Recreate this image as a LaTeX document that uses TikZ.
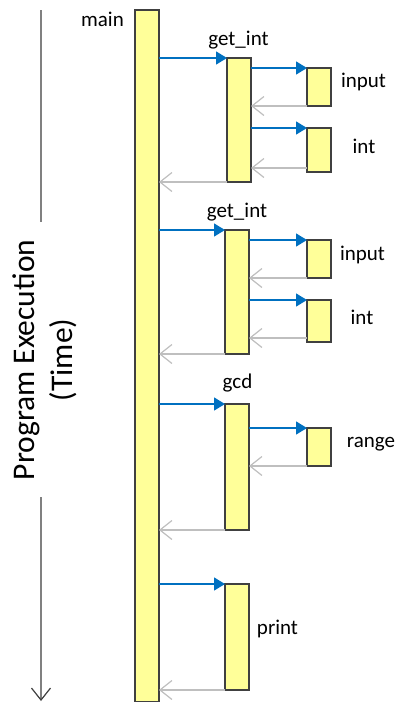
\documentclass[tikz,border=0pt]{standalone}
\usepackage{fontspec}
\setmainfont{Carlito}
\usetikzlibrary{arrows.meta}
\definecolor{boxfill}{HTML}{FFFF99}
\definecolor{boxline}{HTML}{404040}
\definecolor{callblue}{HTML}{0070C0}
\definecolor{retgray}{HTML}{BFBFBF}
\definecolor{timegray}{HTML}{808080}
\tikzset{
  actbox/.style={draw=boxline, fill=boxfill, line width=1.1pt, inner sep=0pt, outer sep=0pt, anchor=north west, minimum width=24pt},
  call/.style={draw=callblue, line width=1.5pt, -{Triangle[length=11pt,width=13pt]}},
  ret/.style={draw=retgray, line width=1.4pt, -{Straight Barb[length=12pt,width=19pt,line width=1.2pt]}},
  timeline/.style={draw=timegray, line width=1.4pt},
  lbl/.style={font=\fontsize{21}{25}\selectfont, inner sep=0pt, anchor=base},
}
\begin{document}
\begin{tikzpicture}[x=1pt, y=-1pt]
\useasboundingbox (0,0) rectangle (398,702);
% main
\node[actbox, minimum height=692pt] (main) at (135,10) {};
\node[lbl] (mainl) at (102.5,26.5) {main};
% group 1
\node[actbox, minimum height=124pt] (g1) at (227,58) {};
\node[actbox, minimum height=38pt] (in1) at (307,68) {};
\node[actbox, minimum height=44pt] (it1) at (307,128) {};
\node[lbl] (g1l) at (238.5,45.5) {get\_int};
\node[lbl] (in1l) at (363.5,87) {input};
\node[lbl] (it1l) at (364,153) {int};
\draw[call] (main.east |- g1.north) -- (g1.north west);
\draw[call] (g1.east |- in1.north) -- (in1.north west);
\draw[ret] (in1.south west) -- (g1.east |- in1.south);
\draw[call] (g1.east |- it1.north) -- (it1.north west);
\draw[ret] ([yshift=4pt]it1.south west) -- ([yshift=4pt]g1.east |- it1.south);
\draw[ret] (g1.south west) -- (main.east |- g1.south);
% group 2
\node[actbox, minimum height=124pt] (g2) at (225,230) {};
\node[actbox, minimum height=38pt] (in2) at (307,240) {};
\node[actbox, minimum height=42pt] (it2) at (307,300) {};
\node[lbl] (g2l) at (237,217) {get\_int};
\node[lbl] (in2l) at (362.5,260) {input};
\node[lbl] (it2l) at (362,324) {int};
\draw[call] (main.east |- g2.north) -- (g2.north west);
\draw[call] (g2.east |- in2.north) -- (in2.north west);
\draw[ret] (in2.south west) -- (g2.east |- in2.south);
\draw[call] (g2.east |- it2.north) -- (it2.north west);
\draw[ret] ([yshift=4pt]it2.south west) -- ([yshift=4pt]g2.east |- it2.south);
\draw[ret] (g2.south west) -- (main.east |- g2.south);
% gcd
\node[actbox, minimum height=126pt] (gcd) at (225,404) {};
\node[actbox, minimum height=38pt] (rg) at (307,428) {};
\node[lbl] (gcdl) at (237.5,388) {gcd};
\node[lbl] (rgl) at (371,447) {range};
\draw[call] (main.east |- gcd.north) -- (gcd.north west);
\draw[call] (gcd.east |- rg.north) -- (rg.north west);
\draw[ret] (rg.south west) -- (gcd.east |- rg.south);
\draw[ret] (gcd.south west) -- (main.east |- gcd.south);
% print
\node[actbox, minimum height=106pt] (pr) at (225,584) {};
\node[lbl] (prl) at (277.5,634) {print};
\draw[call] (main.east |- pr.north) -- (pr.north west);
\draw[ret] (pr.south west) -- (main.east |- pr.south);
% time axis
\node[rotate=90, font=\fontsize{31.5}{38}\selectfont, align=center, inner sep=0pt, anchor=base] (tl) at (72,360) {Program Execution\\(Time)};
\coordinate (t0) at (41,10);
\coordinate (t1) at (41,222);
\coordinate (t2) at (41,497);
\coordinate (t3) at (41,701);
\draw[timeline] (t0) -- (t1);
\draw[timeline, -{Straight Barb[length=12pt,width=19pt,line width=1.2pt,color=boxline]}] (t2) -- (t3);
\end{tikzpicture}
\end{document}
